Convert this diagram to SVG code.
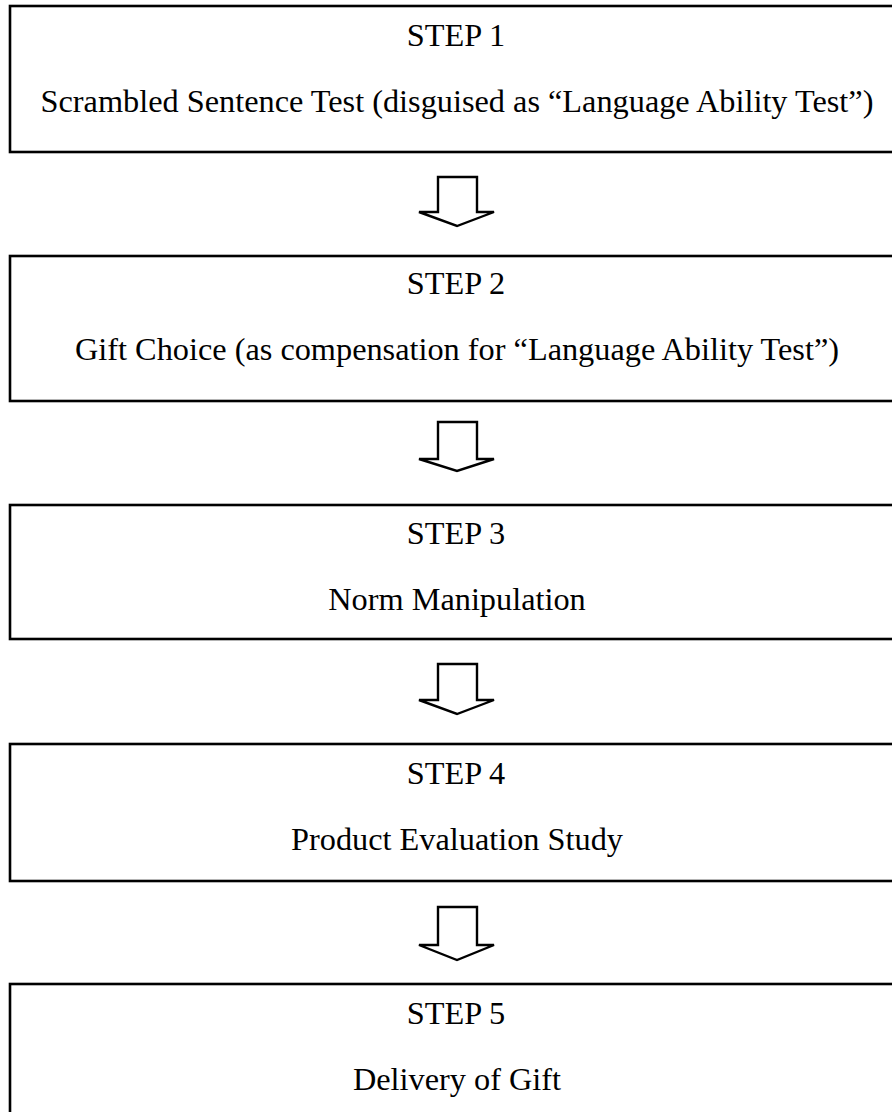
<svg xmlns="http://www.w3.org/2000/svg" width="892" height="1112" viewBox="0 0 892 1112">
<style>
.box{fill:#fff;stroke:#000;stroke-width:2.6}
.arr{fill:#fff;stroke:#000;stroke-width:2.4;stroke-linejoin:miter}
text{font-family:"Liberation Serif","Times New Roman",serif;font-size:32.3px;fill:#000;text-anchor:middle}
</style>
<rect width="892" height="1112" fill="#fff"/>
<g id="step1">
<rect class="box" x="10" y="6" width="900" height="146"/>
<text x="456" y="46">STEP 1</text>
<text x="457" y="112">Scrambled Sentence Test (disguised as “Language Ability Test”)</text>
</g>
<g id="step2">
<rect class="box" x="10" y="256" width="900" height="145"/>
<text x="456" y="294">STEP 2</text>
<text x="457" y="360">Gift Choice (as compensation for “Language Ability Test”)</text>
</g>
<g id="step3">
<rect class="box" x="10" y="505" width="900" height="134"/>
<text x="456" y="544">STEP 3</text>
<text x="457" y="610">Norm Manipulation</text>
</g>
<g id="step4">
<rect class="box" x="10" y="744" width="900" height="137"/>
<text x="456" y="784">STEP 4</text>
<text x="457" y="850">Product Evaluation Study</text>
</g>
<g id="step5">
<rect class="box" x="10" y="984" width="900" height="160"/>
<text x="456" y="1024">STEP 5</text>
<text x="457" y="1090">Delivery of Gift</text>
</g>
<g id="connectors">
<path class="arr" d="M438 177 H477 V212 H494 L457 226 L419 212 H438 Z"/>
<path class="arr" d="M438 422 H477 V459 H494 L457 471 L419 459 H438 Z"/>
<path class="arr" d="M438 664 H477 V700 H494 L457 714 L419 700 H438 Z"/>
<path class="arr" d="M438 907 H477 V945 H494 L457 960 L419 945 H438 Z"/>
</g>
</svg>
